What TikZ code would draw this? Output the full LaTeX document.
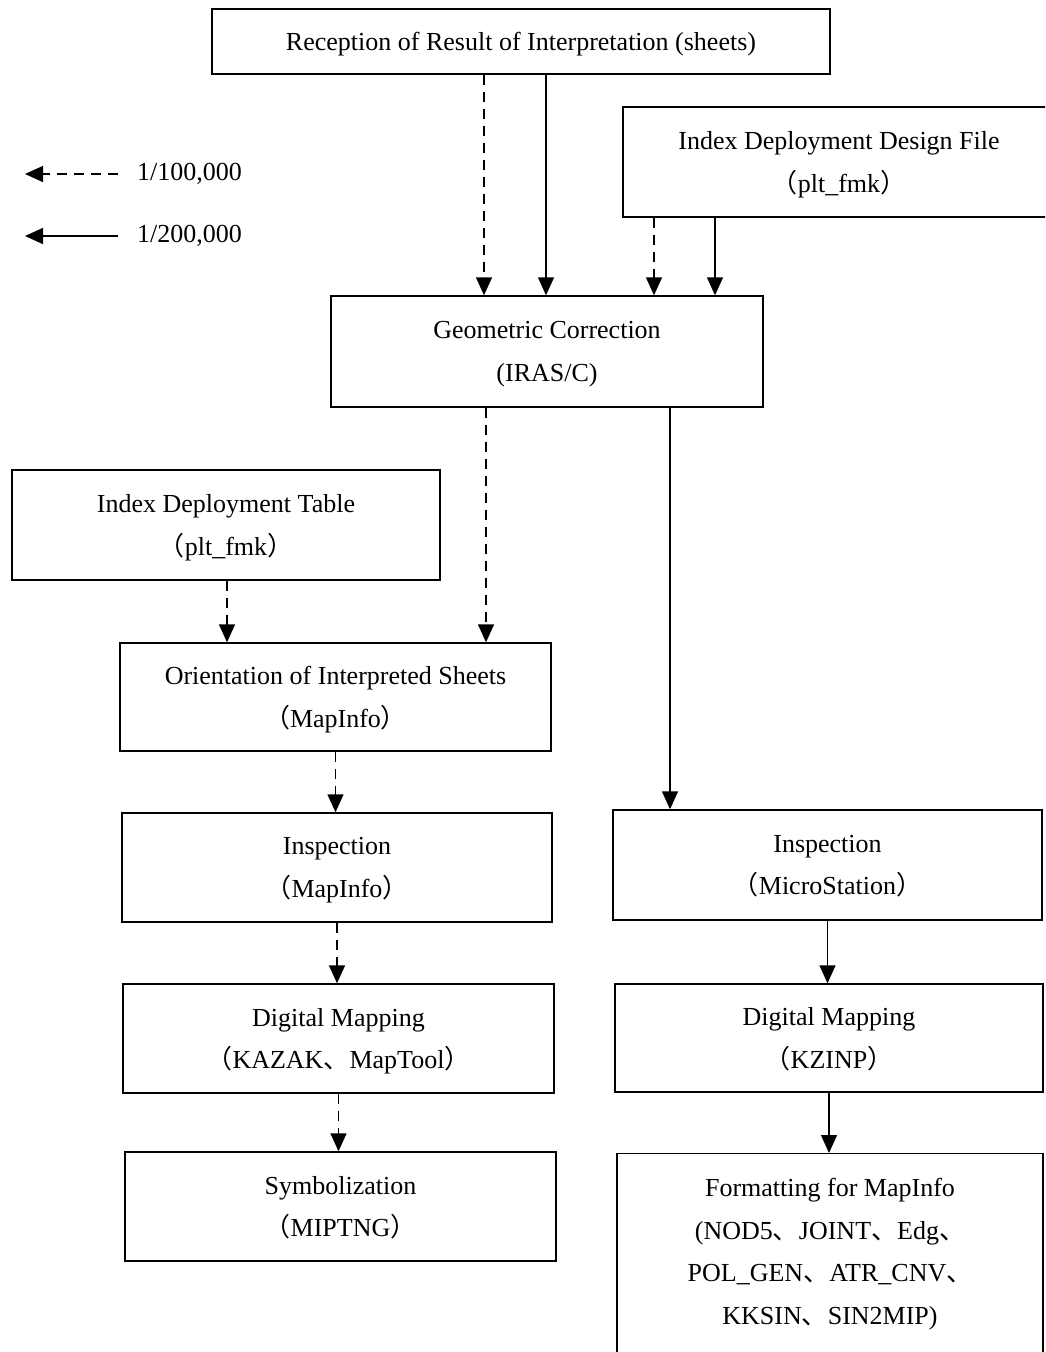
\documentclass[tikz,border=0pt]{standalone}
\usepackage{fontspec}
\setmainfont{Liberation Serif}
\newfontfamily\cjk{Noto Sans CJK SC}
\usetikzlibrary{arrows.meta}
\newcommand{\zlp}{{\cjk （}}
\newcommand{\zrp}{{\cjk ）}}
\newcommand{\zdun}{{\cjk 、}}
\newcommand{\boxfont}{\fontsize{26}{42.5}\selectfont}
\begin{document}
\begin{tikzpicture}[x=1pt,y=-1pt,
  box/.style={draw, line width=1.4pt, inner sep=0pt, align=center, font=\boxfont,
    text depth=-1.5pt},
  flow/.style={line width=1.4pt, -{Triangle[length=18pt,width=16pt]}},
  dflow/.style={flow, dash pattern=on 10pt off 7pt},
  legtext/.style={anchor=west, inner sep=0pt, font=\boxfont}]
\useasboundingbox (0,0) rectangle (1045,1352);
\clip (0,0) rectangle (1045,1352);

% process boxes
\node[box, minimum width=618pt, minimum height=65pt] (rec) at (521,41.5)
  {Reception of Result of Interpretation (sheets)};
\node[box, minimum width=432pt, minimum height=110pt] (dsg) at (839,162)
  {Index Deployment Design File\\\zlp plt\_fmk\zrp};
\node[box, minimum width=432pt, minimum height=111pt] (geo) at (547,351.5)
  {Geometric Correction\\(IRAS/C)};
\node[box, minimum width=428pt, minimum height=110pt] (tab) at (226,525)
  {Index Deployment Table\\\zlp plt\_fmk\zrp};
\node[box, minimum width=431pt, minimum height=108pt] (ori) at (335.5,697)
  {Orientation of Interpreted Sheets\\\zlp MapInfo\zrp};
\node[box, minimum width=430pt, minimum height=109pt] (insA) at (337,867.5)
  {Inspection\\\zlp MapInfo\zrp};
\node[box, minimum width=429pt, minimum height=110pt] (insB) at (827.5,865)
  {Inspection\\\zlp MicroStation\zrp};
\node[box, minimum width=431pt, minimum height=109pt] (dmA) at (338.5,1038.5)
  {Digital Mapping\\\zlp KAZAK\zdun MapTool\zrp};
\node[box, minimum width=428pt, minimum height=108pt] (dmB) at (829,1038)
  {Digital Mapping\\\zlp KZINP\zrp};
\node[box, minimum width=431pt, minimum height=109pt] (sym) at (340.5,1206.5)
  {Symbolization\\\zlp MIPTNG\zrp};
\node[box, minimum width=426pt, minimum height=260pt, anchor=north] (fmt) at (830,1153) {};
\node[anchor=north, align=center, inner sep=0pt, font=\boxfont] (fmttxt) at ([yshift=-25pt]fmt.north)
  {Formatting for MapInfo\\(NOD5\zdun JOINT\zdun Edg\zdun\\POL\_GEN\zdun ATR\_CNV\zdun\\KKSIN\zdun SIN2MIP)};

% connector anchor points
\coordinate (r1) at ([xshift=-37pt]rec.south);
\coordinate (r2) at ([xshift=25pt]rec.south);
\coordinate (d1) at ([xshift=-185pt]dsg.south);
\coordinate (d2) at ([xshift=-124pt]dsg.south);
\coordinate (g1) at ([xshift=-61pt]geo.south);
\coordinate (g2) at ([xshift=123pt]geo.south);
\coordinate (t1) at ([xshift=1pt]tab.south);

% 1/100,000 route (dashed)
\draw[dflow] (r1) -- (r1 |- geo.north);
\draw[dflow] (d1) -- (d1 |- geo.north);
\draw[dflow] (g1) -- (g1 |- ori.north);
\draw[dflow] (t1) -- (t1 |- ori.north);
\draw[dflow] (ori.south) -- (ori.south |- insA.north);
\draw[dflow] (insA.south) -- (insA.south |- dmA.north);
\draw[dflow] (dmA.south) -- (dmA.south |- sym.north);

% 1/200,000 route (solid)
\draw[flow] (r2) -- (r2 |- geo.north);
\draw[flow] (d2) -- (d2 |- geo.north);
\draw[flow] (g2) -- (g2 |- insB.north);
\draw[flow] (insB.south) -- (insB.south |- dmB.north);
\draw[flow] (dmB.south) -- (dmB.south |- fmt.north);

% legend
\coordinate (la) at (118,174);
\coordinate (lb) at (25,174);
\coordinate (lc) at (118,236);
\coordinate (ld) at (25,236);
\draw[dflow] (la) -- (lb);
\draw[flow] (lc) -- (ld);
\node[legtext] (l1) at (137,174) {1/100,000};
\node[legtext] (l2) at (137,236) {1/200,000};
\end{tikzpicture}
\end{document}
